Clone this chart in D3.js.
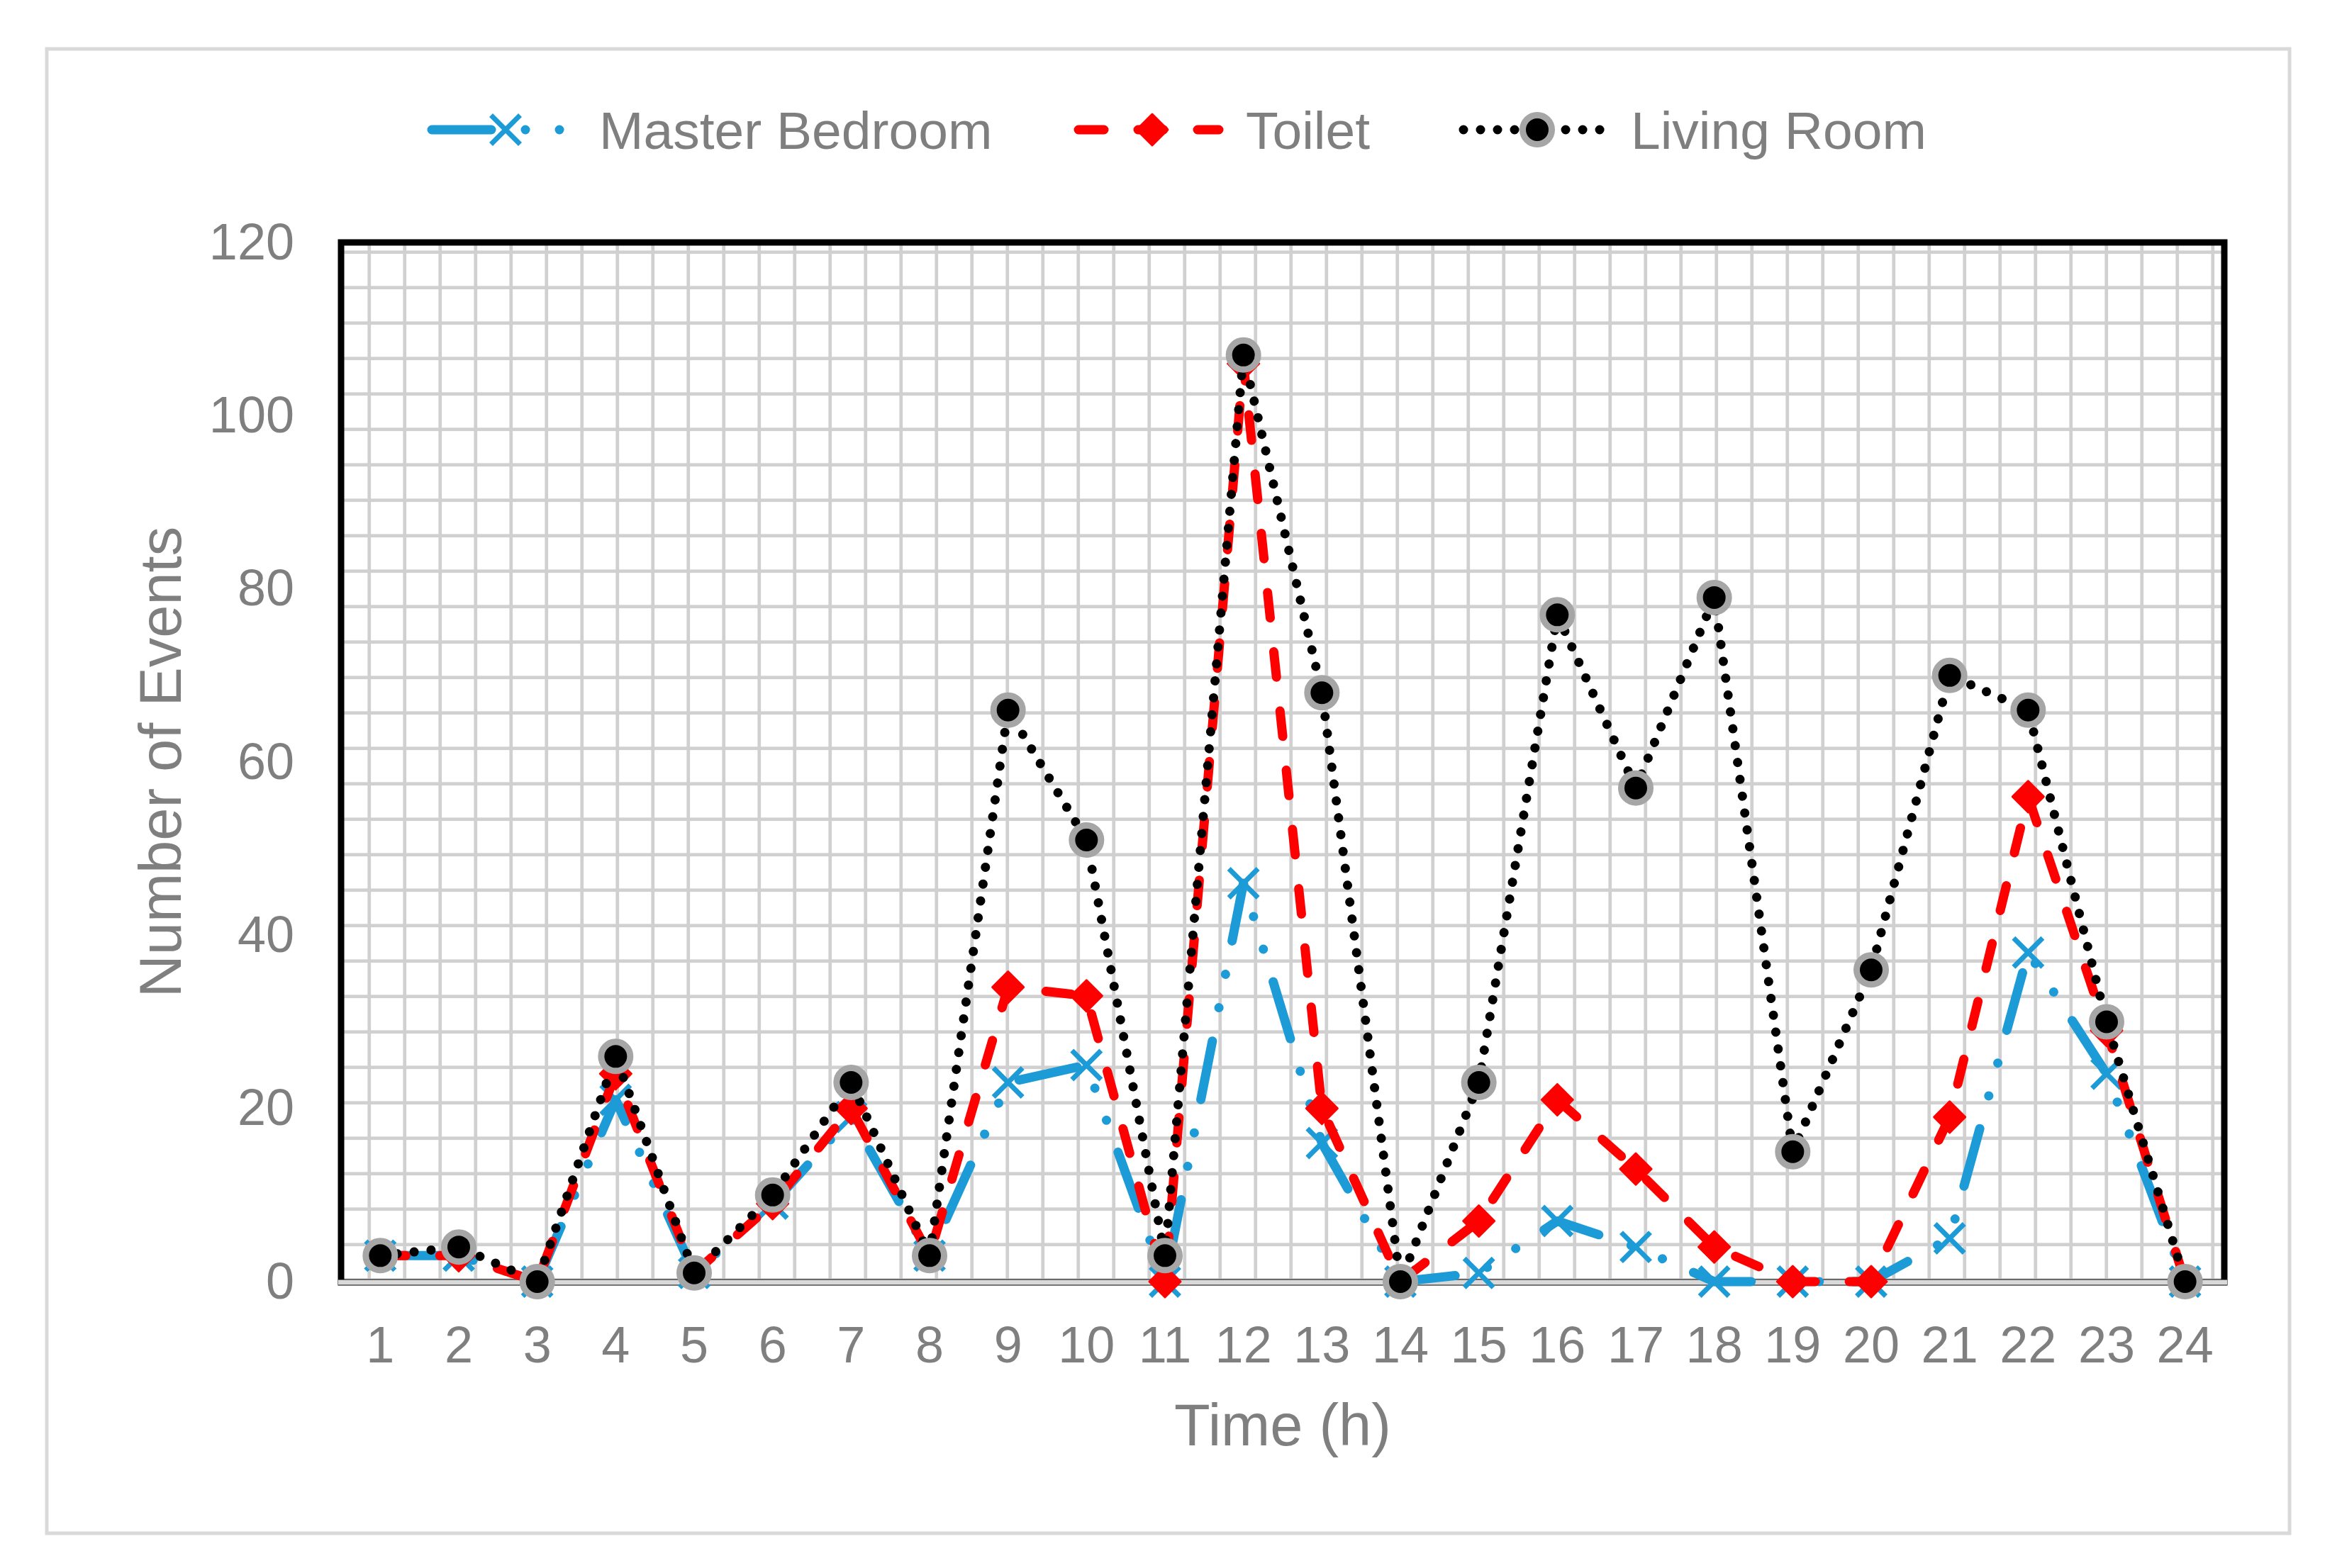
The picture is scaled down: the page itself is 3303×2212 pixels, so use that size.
<!DOCTYPE html>
<html>
<head>
<meta charset="utf-8">
<script src="https://cdn.jsdelivr.net/npm/d3@7/dist/d3.min.js"></script>
<style>
  body { margin: 0; background: #fff; }
  svg text { font-family: "Liberation Sans", Arial, sans-serif; fill: #7f7f7f; }
</style>
</head>
<body>
<svg id="chart" width="3303" height="2212"></svg>
<script>
// hour of day (category axis)
const hours = ["1","2","3","4","5","6","7","8","9","10","11","12",
               "13","14","15","16","17","18","19","20","21","22","23","24"];

// events per hour
const masterBedroom = [3, 3, 0, 21, 1, 9, 19, 3, 23, 25, 0, 46, 16, 0, 1, 7, 4, 0, 0, 0, 5, 38, 24, 0];
const toilet        = [3, 3, 0, 24, 1, 9, 20, 3, 34, 33, 0, 106, 20, 0, 7, 21, 13, 4, 0, 0, 19, 56, 29, 0];
const livingRoom    = [3, 4, 0, 26, 1, 10, 23, 3, 66, 51, 3, 107, 68, 0, 23, 77, 57, 79, 15, 36, 70, 66, 30, 0];

const seriesNames = ["Master Bedroom", "Toilet", "Living Room"];
const yTicks = [0, 20, 40, 60, 80, 100, 120];

const svg = d3.select("#chart");
const plotLeft = 481, plotRight = 3137, plotTop = 342, plotBottom = 1808;

let x = d3.scaleBand().domain(hours).range([plotLeft, plotRight]);
let y = d3.scaleLinear().domain([0, 120]).range([plotBottom, plotTop]);
const cx = d => x(d) + x.bandwidth() / 2;

svg.append("rect").attr("width", 3303).attr("height", 2212).attr("fill", "#fff");

// outer chart border
svg.append("rect")
    .attr("x", 66).attr("y", 69).attr("width", 3163).attr("height", 2094)
    .attr("fill", "none").attr("stroke", "#d9d9d9").attr("stroke-width", 5);

// grid pattern fill of the plot area (not tied to the axes)
const defs = svg.append("defs");
const pat = defs.append("pattern").attr("id", "grid")
    .attr("patternUnits", "userSpaceOnUse")
    .attr("x", 0).attr("y", 0).attr("width", 50).attr("height", 50);
pat.append("rect").attr("width", 50).attr("height", 50).attr("fill", "#fff");
pat.append("rect").attr("x", 18.4).attr("y", 0).attr("width", 4.7).attr("height", 50).attr("fill", "#d0d0d0");
pat.append("rect").attr("x", 0).attr("y", 3.4).attr("width", 50).attr("height", 4.7).attr("fill", "#d0d0d0");

svg.append("rect")
    .attr("x", plotLeft).attr("y", plotTop)
    .attr("width", plotRight - plotLeft).attr("height", plotBottom + 1 - plotTop)
    .attr("fill", "url(#grid)")
    .attr("stroke", "#000").attr("stroke-width", 9);

// x axis line (light grey over the black frame)
svg.append("line")
    .attr("x1", plotLeft - 4).attr("x2", plotRight + 4)
    .attr("y1", plotBottom + 1).attr("y2", plotBottom + 1)
    .attr("stroke", "#d9d9d9").attr("stroke-width", 7);

// axes
let yAxis = svg.append("g")
    .attr("transform", `translate(${plotLeft},0)`)
    .call(d3.axisLeft(y).tickValues(yTicks).tickSize(0).tickPadding(66));
let xAxis = svg.append("g")
    .attr("transform", `translate(0,${plotBottom + 1})`)
    .call(d3.axisBottom(x).tickSize(0).tickPadding(62));
[yAxis, xAxis].forEach(g => {
    g.select(".domain").remove();
    g.selectAll("text").attr("font-size", 72).attr("fill", "#7f7f7f")
        .attr("font-family", "Liberation Sans, Arial, sans-serif");
});

svg.append("text")
    .attr("x", (plotLeft + plotRight) / 2).attr("y", 2039)
    .attr("text-anchor", "middle").attr("font-size", 83)
    .text("Time (h)");
svg.append("text")
    .attr("transform", `translate(255,${(plotTop + plotBottom) / 2}) rotate(-90)`)
    .attr("text-anchor", "middle").attr("font-size", 83)
    .text("Number of Events");

// series styles (dash unit U, drawn a little wider)
const U = 12, LW = 13;
const styles = [
    { color: "#1d9bd7", dash: `${7 * U} ${4 * U} 0.01 ${4 * U} 0.01 ${4 * U}`, marker: "x" },
    { color: "#ff0000", dash: `${3 * U} ${4 * U}`, marker: "diamond" },
    { color: "#000000", dash: `0.01 ${2 * U}`, marker: "circle" }
];
const allSeries = [masterBedroom, toilet, livingRoom];

function drawMarker(g, type, color) {
    if (type === "x") {
        g.append("path").attr("d", "M-20.5,-20.5L20.5,20.5M-20.5,20.5L20.5,-20.5")
            .attr("stroke", color).attr("stroke-width", 7).attr("fill", "none");
    } else if (type === "diamond") {
        g.append("path").attr("d", "M0,-22L22,0L0,22L-22,0Z")
            .attr("fill", color).attr("stroke", color).attr("stroke-width", 3)
            .attr("stroke-linejoin", "round");
    } else {
        g.append("circle").attr("r", 20.5)
            .attr("fill", "#000").attr("stroke", "#a6a6a6").attr("stroke-width", 9);
    }
}

const line = d3.line().x(d => cx(d.h)).y(d => y(d.v));

allSeries.forEach((vals, i) => {
    const st = styles[i];
    const pts = hours.map((h, j) => ({ h: h, v: vals[j] }));
    svg.append("path")
        .datum(pts)
        .attr("d", line)
        .attr("fill", "none")
        .attr("stroke", st.color)
        .attr("stroke-width", LW)
        .attr("stroke-dasharray", st.dash)
        .attr("stroke-linecap", "round")
        .attr("stroke-linejoin", "round");
    pts.forEach(p => {
        const g = svg.append("g").attr("transform", `translate(${cx(p.h)},${y(p.v)})`);
        drawMarker(g, st.marker, st.color);
    });
});

// legend
const legY = 183;
const legendStart = [609, 1521, 2064];
seriesNames.forEach((name, i) => {
    const st = styles[i];
    const lx = legendStart[i];
    const lg = svg.append("g");
    lg.append("line")
        .attr("x1", lx).attr("x2", lx + 198).attr("y1", legY).attr("y2", legY)
        .attr("stroke", st.color).attr("stroke-width", LW)
        .attr("stroke-dasharray", st.dash).attr("stroke-linecap", "round");
    const m = lg.append("g").attr("transform", `translate(${lx + 104},${legY})`);
    drawMarker(m, st.marker, st.color);
    lg.append("text")
        .attr("x", lx + 236).attr("y", legY + 27)
        .attr("font-size", 75)
        .text(name);
});
</script>
</body>
</html>
